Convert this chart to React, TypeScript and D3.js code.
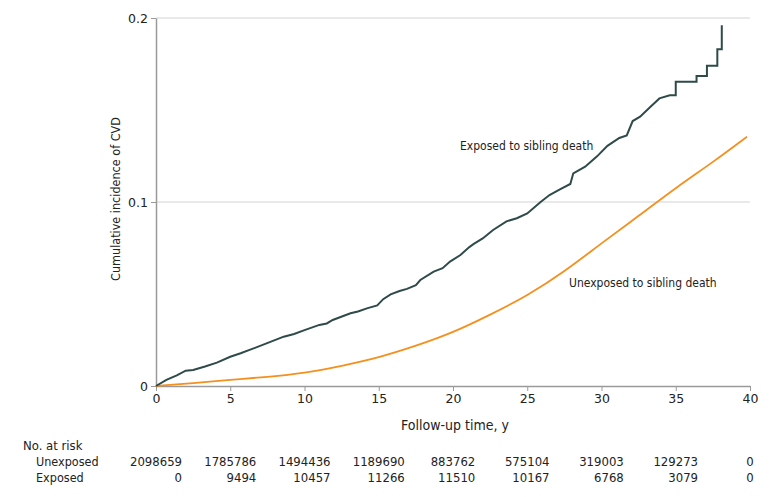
import React, { useEffect, useRef } from 'react';
import * as d3 from 'd3';

const timeTicks = [0, 5, 10, 15, 20, 25, 30, 35, 40];
const incidenceTicks = [0, 0.1, 0.2];
const gridTicks = [0.1, 0.2];

const atRiskUnexposed = [2098659, 1785786, 1494436, 1189690, 883762, 575104, 319003, 129273, 0];
const atRiskExposed = [0, 9494, 10457, 11266, 11510, 10167, 6768, 3079, 0];

// exposed to sibling death (stepwise at the tail)
const exposedTime = [
  0, 0.7, 1.4, 2.0, 2.5, 3.3, 4.1, 5.0, 5.7, 6.3, 7.4, 8.6, 9.3, 10.0, 11.0, 11.5, 11.9, 13.1, 13.6,
  14.2, 14.9, 15.3, 15.8, 16.4, 16.9, 17.5, 17.8, 18.7, 19.3, 19.8, 20.5, 21.1, 21.4, 22.0, 22.7,
  23.6, 24.3, 25.0, 25.9, 26.5, 27.2, 27.9, 28.1, 28.9, 29.7, 30.4, 31.2, 31.7, 32.1, 32.6, 33.3,
  33.9, 34.6, 35.0, 35.0, 36.4, 36.4, 37.1, 37.1, 37.8, 37.8, 38.1, 38.1
];
const exposedValue = [
  0, 0.0033, 0.0058, 0.0083, 0.0087, 0.0106, 0.0127, 0.0159, 0.0178, 0.0196, 0.023, 0.0268, 0.0283,
  0.0304, 0.0332, 0.034, 0.0359, 0.0395, 0.0405, 0.0422, 0.0438, 0.0472, 0.0498, 0.0516, 0.0528,
  0.0548, 0.0576, 0.0622, 0.064, 0.0676, 0.0712, 0.0755, 0.0772, 0.0802, 0.0848, 0.0895, 0.0912,
  0.0938, 0.1, 0.1038, 0.1068, 0.1098, 0.1156, 0.1192, 0.1248, 0.1305, 0.1348, 0.1362, 0.144, 0.1464,
  0.1518, 0.1563, 0.158, 0.158, 0.1654, 0.1654, 0.1685, 0.1685, 0.174, 0.174, 0.183, 0.183, 0.196
];

// unexposed to sibling death
const unexposedTime = [0, 2.5, 5, 7.5, 10, 12.5, 15, 17.5, 20, 22.5, 25, 27.5, 30, 32.5, 35, 37.5, 39.8];
const unexposedValue = [
  0, 0.0016, 0.0033, 0.005, 0.0073, 0.011, 0.0157, 0.0219, 0.0294, 0.0388, 0.0495, 0.0625, 0.0775,
  0.0925, 0.1075, 0.1218, 0.1355
];

const textFont = '"DejaVu Sans Condensed", "Liberation Sans Narrow", sans-serif';
const tickFont = '"DejaVu Sans", sans-serif';

const App = () => {
  const container = useRef(null);

  useEffect(() => {
    createChart();
  }, []);

  const createChart = () => {
    const width = 780;
    const height = 497;

    const xScale = d3.scaleLinear().domain([0, 40]).range([156, 750]);
    const yScale = d3.scaleLinear().domain([0, 0.2]).range([386, 18]);

    const svg = d3
      .select(container.current)
      .selectAll('svg')
      .data([0])
      .join('svg')
      .attr('width', width)
      .attr('height', height)
      .style('position', 'absolute')
      .style('left', 0)
      .style('top', 0)
      .style('background', '#fff');

    svg.selectAll('*').remove();

    // gridlines
    svg
      .append('g')
      .selectAll('line')
      .data(gridTicks)
      .join('line')
      .attr('x1', xScale(0))
      .attr('x2', xScale(40))
      .attr('y1', d => yScale(d))
      .attr('y2', d => yScale(d))
      .attr('stroke', '#e2e2e2')
      .attr('stroke-width', 1.5);

    const xAxis = d3
      .axisBottom(xScale)
      .tickValues(timeTicks)
      .tickSize(5)
      .tickSizeOuter(0)
      .tickPadding(3);
    const yAxis = d3
      .axisLeft(yScale)
      .tickValues(incidenceTicks)
      .tickFormat(d => (d === 0 ? '0' : d3.format('.1f')(d)))
      .tickSize(5)
      .tickSizeOuter(0)
      .tickPadding(3);

    const xaxisg = svg
      .append('g')
      .attr('transform', `translate(0, ${yScale(0)})`)
      .call(xAxis);
    const yaxisg = svg
      .append('g')
      .attr('transform', `translate(${xScale(0)}, 0)`)
      .call(yAxis);

    [xaxisg, yaxisg].forEach(g => {
      g.select('.domain').attr('stroke', '#9a9a9a').attr('stroke-width', 1.5);
      g.selectAll('.tick line').attr('stroke', '#9a9a9a');
      g.selectAll('.tick text')
        .attr('fill', '#222')
        .style('font-family', tickFont)
        .style('font-size', '12.5px');
    });

    const line = d3
      .line()
      .x(d => xScale(d[0]))
      .y(d => yScale(d[1]));

    svg
      .append('path')
      .datum(unexposedTime.map((t, i) => [t, unexposedValue[i]]))
      .attr('d', line.curve(d3.curveNatural))
      .attr('fill', 'none')
      .attr('stroke', '#f4901e')
      .attr('stroke-width', 1.8);

    svg
      .append('path')
      .datum(exposedTime.map((t, i) => [t, exposedValue[i]]))
      .attr('d', line.curve(d3.curveLinear))
      .attr('fill', 'none')
      .attr('stroke', '#2e4b49')
      .attr('stroke-width', 2);

    const label = (x, y, txt, size, anchor = 'start') =>
      svg
        .append('text')
        .attr('x', x)
        .attr('y', y)
        .attr('text-anchor', anchor)
        .attr('fill', '#222')
        .style('font-family', textFont)
        .style('font-size', size)
        .text(txt);

    label(460, 150, 'Exposed to sibling death', '12px');
    label(569, 287, 'Unexposed to sibling death', '12px');
    label(455, 430, 'Follow-up time, y', '14px', 'middle');

    svg
      .append('text')
      .attr('transform', `translate(120, 199) rotate(-90)`)
      .attr('text-anchor', 'middle')
      .attr('fill', '#222')
      .style('font-family', textFont)
      .style('font-size', '12.5px')
      .text('Cumulative incidence of CVD');

    // number at risk table
    label(23, 450, 'No. at risk', '13px');
    label(36, 466, 'Unexposed', '12.5px');
    label(36, 482, 'Exposed', '12.5px');

    const rightEdges = [];
    timeTicks.forEach((t, i) => {
      const txt = label(xScale(t), 466, String(atRiskUnexposed[i]), '13px', 'middle');
      const w = txt.node().getComputedTextLength();
      rightEdges.push(xScale(t) + w / 2);
    });
    timeTicks.forEach((t, i) => {
      label(rightEdges[i], 482, String(atRiskExposed[i]), '13px', 'end');
    });
  };

  return <div className="km-container" ref={container}></div>;
};

export default App;
